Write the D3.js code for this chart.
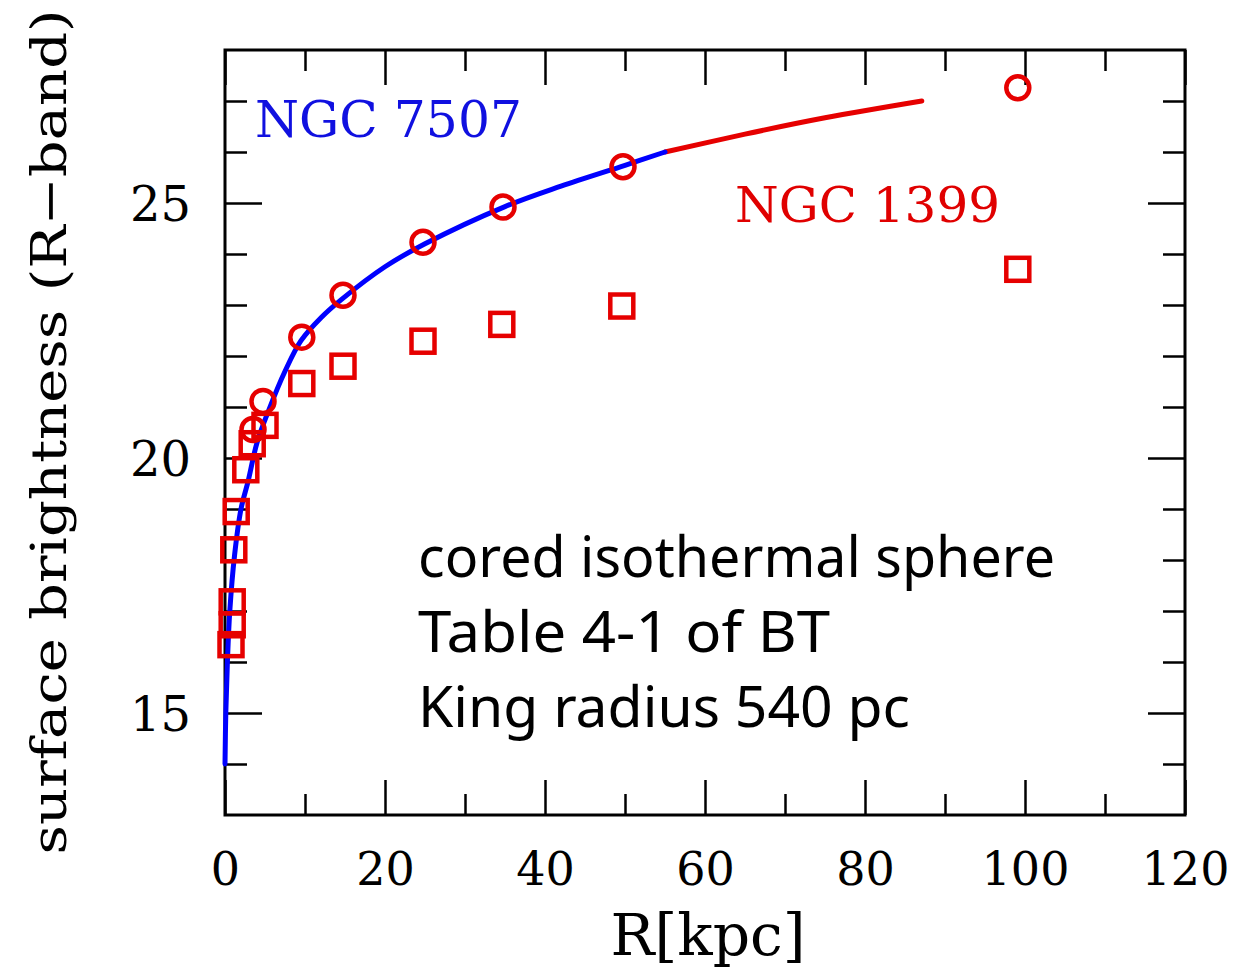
<!DOCTYPE html>
<html>
<head>
<meta charset="utf-8">
<script src="https://cdn.jsdelivr.net/npm/d3@7"></script>
<style>
  body { margin: 0; background: #fff; }
  .axis path { display: none; }
  .axis line { stroke: #000; stroke-width: 2.5px; }
  .axis text { font-family: "DejaVu Serif", serif; fill: #000; }
  .frame { fill: none; stroke: #000; stroke-width: 3px; }
  .model { fill: none; stroke-width: 5px; stroke-linejoin: round; stroke-linecap: round; }
  .marker { fill: none; stroke: #e60000; stroke-width: 4.5px; }
  .label { font-family: "DejaVu Serif", serif; }
  .note { font-family: "Noto Sans", sans-serif; fill: #000; }
</style>
</head>
<body>
<div id="chart"></div>
<script>
// NGC 7507 model (blue) and its continuation (red)
const modelR  = [0, 0.1, 0.3, 0.6, 1.2, 2.0, 2.9, 4.0, 5.5, 7.5, 9.5, 12, 14.5, 20, 25, 35, 42, 50, 55];
const modelMu = [14.0, 15.0, 16.0, 17.0, 18.1, 19.0, 19.55, 20.3, 20.95, 21.7, 22.3, 22.75, 23.1, 23.75, 24.2, 24.93, 25.33, 25.74, 26.0];
const tailR   = [55, 65, 75, 87.1];
const tailMu  = [26.0, 26.35, 26.67, 27.0];

// circles
const circR  = [99.1, 49.75, 34.75, 24.75, 14.75, 9.6, 4.75, 3.5];
const circMu = [27.26, 25.71, 24.92, 24.23, 23.19, 22.37, 21.11, 20.56];

// squares
const sqR  = [99.1, 49.6, 34.6, 24.75, 14.75, 9.6, 5.0, 3.4, 2.6, 1.4, 1.1, 0.9, 0.9, 0.75];
const sqMu = [23.70, 22.98, 22.62, 22.29, 21.80, 21.46, 20.64, 20.28, 19.77, 18.95, 18.20, 17.18, 16.73, 16.34];

const xMajor = [0, 20, 40, 60, 80, 100, 120];
const yMajor = [15, 20, 25];
const notes = ["cored isothermal sphere", "Table 4-1 of BT", "King radius 540 pc"];

const MARGIN = {top: 50, right: 52, bottom: 154, left: 225};
const WIDTH = 1237 - MARGIN.left - MARGIN.right;
const HEIGHT = 969 - MARGIN.top - MARGIN.bottom;

const svg = d3.select("#chart").append("svg")
  .attr("width", 1237)
  .attr("height", 969);

const g = svg.append("g")
  .attr("transform", "translate(" + MARGIN.left + "," + MARGIN.top + ")");

const x = d3.scaleLinear().domain([0, 120]).range([0, WIDTH]);
const y = d3.scaleLinear().domain([13, 28]).range([HEIGHT, 0]);

const xMinor = d3.range(10, 120, 20);
const yMinor = d3.range(14, 28).filter(v => v % 5 !== 0);

// ticks on all four sides, pointing inward
function ticks(axisFn, scale, major, minor, majorLen, minorLen, pos, labels) {
  const a = g.append("g").attr("class", "axis").attr("transform", pos)
    .call(axisFn(scale).tickValues(major).tickSize(majorLen).tickFormat(labels ? d3.format("d") : ""));
  g.append("g").attr("class", "axis").attr("transform", pos)
    .call(axisFn(scale).tickValues(minor).tickSize(minorLen).tickFormat(""));
  return a;
}

// negative tickSize turns the ticks into the plot
const xb = ticks(d3.axisBottom, x, xMajor, xMinor, -35, -21, "translate(0," + HEIGHT + ")", true);
xb.selectAll("text").attr("y", 70).attr("dy", 0).style("font-size", "46px");
ticks(d3.axisTop, x, xMajor, xMinor, -35, -21, "translate(0,0)", false);

const yl = ticks(d3.axisLeft, y, yMajor, yMinor, -37, -22, "translate(0,0)", true);
yl.selectAll("text").attr("x", -34).attr("dy", "0.36em").style("font-size", "48px");
ticks(d3.axisRight, y, yMajor, yMinor, -37, -22, "translate(" + WIDTH + ",0)", false);

g.append("rect").attr("class", "frame")
  .attr("x", 0).attr("y", 0).attr("width", WIDTH).attr("height", HEIGHT);

const line = d3.line().x(d => x(d[0])).y(d => y(d[1])).curve(d3.curveCatmullRom.alpha(0.5));

g.append("path").attr("class", "model")
  .datum(d3.zip(tailR, tailMu))
  .attr("d", line).style("stroke", "#e60000");
g.append("path").attr("class", "model")
  .datum(d3.zip(modelR, modelMu))
  .attr("d", line).style("stroke", "#0000ff");

g.selectAll("circle.marker").data(d3.zip(circR, circMu)).join("circle")
  .attr("class", "marker")
  .attr("cx", d => x(d[0])).attr("cy", d => y(d[1])).attr("r", 11.5);

g.selectAll("rect.marker").data(d3.zip(sqR, sqMu)).join("rect")
  .attr("class", "marker")
  .attr("x", d => x(d[0]) - 11.5).attr("y", d => y(d[1]) - 11.5)
  .attr("width", 23).attr("height", 23);

g.append("text").attr("class", "label")
  .attr("x", 30).attr("y", 87)
  .attr("textLength", 267).attr("lengthAdjust", "spacingAndGlyphs")
  .style("font-size", "50px").style("fill", "#1010e0")
  .text("NGC  7507");

g.append("text").attr("class", "label")
  .attr("x", 510).attr("y", 172)
  .attr("textLength", 265).attr("lengthAdjust", "spacingAndGlyphs")
  .style("font-size", "48px").style("fill", "#e00000")
  .text("NGC  1399");

const noteLen = [637, 412, 492];
notes.forEach((t, i) => {
  g.append("text").attr("class", "note")
    .attr("x", 193).attr("y", 527 + i * 75)
    .attr("textLength", noteLen[i]).attr("lengthAdjust", "spacingAndGlyphs")
    .style("font-size", "56px")
    .text(t);
});

// axis titles
svg.append("text").attr("class", "label")
  .attr("x", 708).attr("y", 955)
  .attr("text-anchor", "middle")
  .attr("textLength", 195).attr("lengthAdjust", "spacingAndGlyphs")
  .style("font-size", "57px")
  .text("R[kpc]");

svg.append("text").attr("class", "label")
  .attr("transform", "translate(66,432) rotate(-90)")
  .attr("text-anchor", "middle")
  .attr("textLength", 845).attr("lengthAdjust", "spacingAndGlyphs")
  .style("font-size", "48px")
  .text("surface brightness (R\u2212band)");
</script>
</body>
</html>
